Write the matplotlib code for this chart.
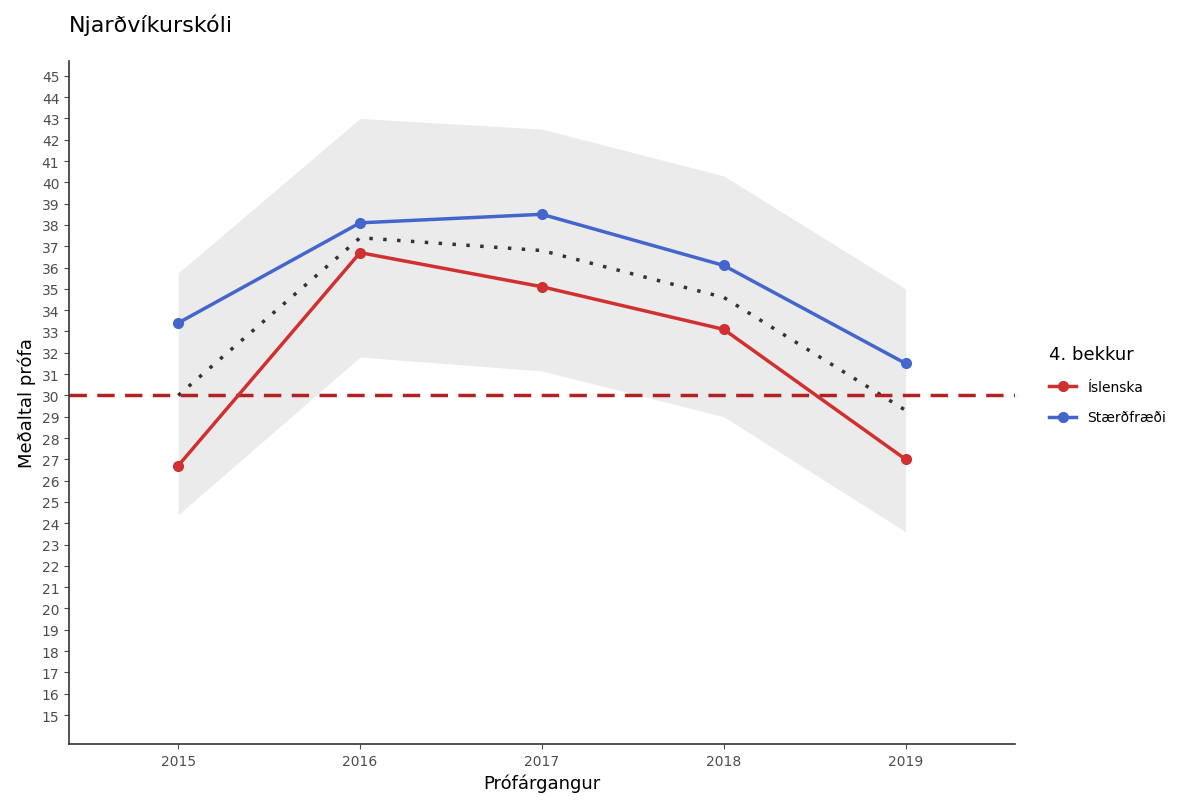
import matplotlib
matplotlib.use("Agg")
import matplotlib.pyplot as plt

years = [2015, 2016, 2017, 2018, 2019]
islenska = [26.7, 36.7, 35.1, 33.1, 27.0]
staerdfraedi = [33.4, 38.1, 38.5, 36.1, 31.5]
landsmedaltal = [30.0, 37.4, 36.8, 34.6, 29.3]
band_upper = [35.75, 43.0, 42.5, 40.3, 35.0]
band_lower = [24.4, 31.8, 31.15, 29.0, 23.6]
yticks = list(range(15, 46))

fig = plt.figure(figsize=(11.91, 8.04), dpi=100)
ax = fig.add_axes([0.058, 0.0734, 0.794, 0.8496])
ax.fill_between(years, band_lower, band_upper, color="#ebebeb", lw=0)
ax.plot(years, landsmedaltal, ls=(0, (1, 3)), color="#333333", lw=2.5)
ax.axhline(30, color="#b22222", ls=(0, (5, 3)), lw=2.5)
ax.plot(years, islenska, color="#d03030", lw=2.5, marker="o", ms=7, label="Íslenska")
ax.plot(years, staerdfraedi, color="#4466cc", lw=2.5, marker="o", ms=7, label="Stærðfræði")
ax.set_xlim(2014.4, 2019.6)
ax.set_ylim(13.64, 45.7)
ax.set_xticks(years)
ax.set_yticks(yticks)
ax.tick_params(labelsize=10, colors="#4d4d4d")
for s in ["top", "right"]:
    ax.spines[s].set_visible(False)
for s in ["left", "bottom"]:
    ax.spines[s].set_color("#333333")
    ax.spines[s].set_linewidth(1.2)
ax.set_xlabel("Prófárgangur", fontsize=13)
ax.set_ylabel("Meðaltal prófa", fontsize=13)
fig.text(0.058, 0.96, "Njarðvíkurskóli", fontsize=16)
leg = fig.legend(handles=ax.get_lines()[-2:], title="4. bekkur", loc="upper left",
                 bbox_to_anchor=(0.87, 0.585), frameon=False, fontsize=10,
                 title_fontsize=13, handlelength=2, labelspacing=1.2)
leg._legend_box.align = "left"
fig.savefig("out.png", dpi=100)
